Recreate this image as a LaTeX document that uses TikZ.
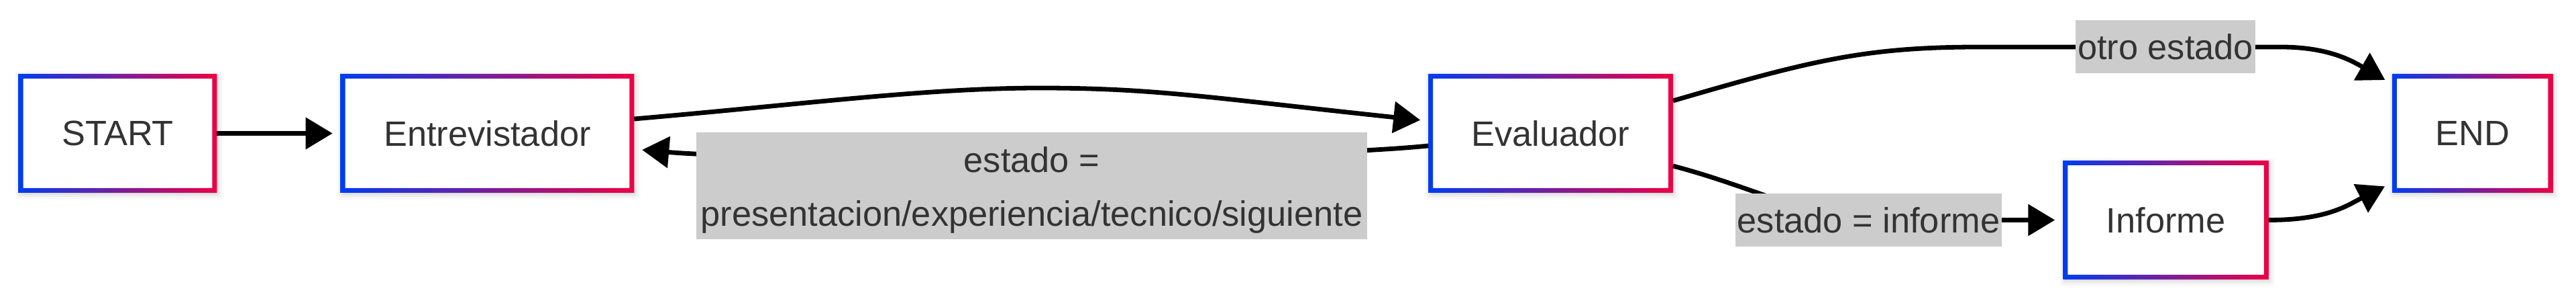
\documentclass[tikz,border=0pt]{standalone}
\usepackage{fontspec}
\setmainfont{Liberation Sans}
\usetikzlibrary{arrows.meta,shadows.blur}
\definecolor{frameblue}{RGB}{0,60,240}
\definecolor{framered}{RGB}{238,0,68}
\definecolor{lblgray}{RGB}{204,204,204}
\definecolor{txtgray}{RGB}{51,51,51}
\newcommand{\nodefont}{\fontsize{14.9pt}{22.8pt}\selectfont}

\begin{document}
\begin{tikzpicture}[
  state/.style={rectangle, fill=white, minimum height=1.77cm, inner xsep=0.645cm,
                outer sep=0pt, text=txtgray, font=\nodefont,
                blur shadow={shadow xshift=0.02cm, shadow yshift=-0.03cm,
                             shadow blur radius=0.08cm, shadow opacity=18}},
  cond/.style={fill=lblgray, text=txtgray, font=\nodefont, inner xsep=0.03cm,
               inner ysep=0pt, minimum height=0.79cm},
  arrow/.style={-{Triangle[length=0.40cm, width=0.46cm]}, line width=0.068cm,
                shorten >=0.12cm}
]
  \useasboundingbox (0,0) rectangle (38.4,4.45);

  \node[state] (start) at (1.755,2.465) {START};
  \node[state] (entre) at (7.265,2.465) {Entrevistador};
  \node[state] (eval)  at (23.115,2.465) {Evaluador};
  \node[state] (info)  at (32.285,1.175) {Informe};
  \node[state] (fin)   at (36.855,2.465) {END};

  \foreach \n in {start,entre,eval,info,fin}
    \shade[left color=frameblue, right color=framered, even odd rule]
      (\n.south west) rectangle (\n.north east)
      ([shift={(0.07,0.07)}]\n.south west) rectangle ([shift={(-0.07,-0.07)}]\n.north east);

  \draw[arrow] (start) -- (entre);
  \draw[arrow] ([yshift=0.215cm]entre.east) .. controls (12.00,2.90) and (13.80,3.14) .. (15.50,3.14)
               .. controls (17.20,3.14) and (18.00,3.00) .. ([yshift=0.185cm]eval.west);
  \draw[arrow] ([yshift=-0.185cm]eval.west) .. controls (19.00,2.05) and (11.50,2.05)
               .. ([yshift=-0.235cm]entre.east);
  \draw[arrow] ([yshift=0.485cm]eval.east) .. controls (27.00,3.55) and (27.80,3.75) .. (29.50,3.75)
               -- (34.00,3.75) .. controls (34.70,3.75) and (35.05,3.55) .. ([yshift=-0.15cm]fin.north west);
  \draw[arrow] ([yshift=-0.485cm]eval.east) .. controls (26.20,1.65) and (27.00,1.175) .. (28.00,1.175)
               -- (info.west);
  \draw[arrow] (info.east) .. controls (34.70,1.175) and (35.00,1.40) .. ([yshift=0.15cm]fin.south west);

  \node[cond, minimum width=10.00cm, minimum height=1.59cm, align=center] (c1) at (15.38,1.685)
    {\rule{0pt}{0.96em}estado =\\presentacion/experiencia/tecnico/siguiente};
  \node[cond] (c2) at (32.28,3.755) {otro estado};
  \node[cond] (c3) at (27.855,1.175) {estado = informe};
\end{tikzpicture}
\end{document}
